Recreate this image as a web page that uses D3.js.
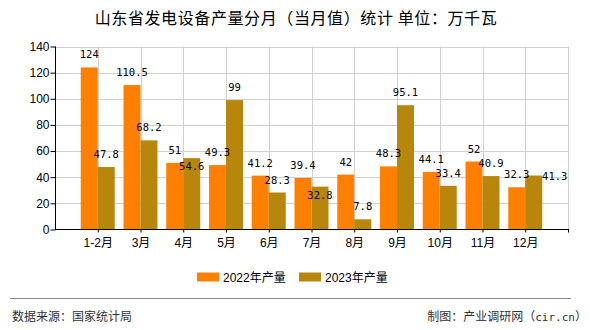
<!DOCTYPE html>
<html><head><meta charset="utf-8">
<script src="https://cdn.jsdelivr.net/npm/d3@7/dist/d3.min.js"></script>
<style>
html,body{margin:0;padding:0;background:#fff;}
svg{display:block;}
</style></head>
<body>
<svg id="c" width="590" height="330"></svg>
<script>
const categories = ["1-2月","3月","4月","5月","6月","7月","8月","9月","10月","11月","12月"];
const values2022 = [124,110.5,51,49.3,41.2,39.4,42,48.3,44.1,52,32.3];
const values2023 = [47.8,68.2,54.6,99,28.3,32.8,7.8,95.1,33.4,40.9,41.3];
const seriesNames = ["2022年产量","2023年产量"];
const yTicks = [0,20,40,60,80,100,120,140];
const title = "山东省发电设备产量分月（当月值）统计 单位：万千瓦";
const sourceText = "数据来源：国家统计局";
const creditText = "制图：产业调研网";
const creditSite = "cir.cn";

(function(){
const colors = ["#FF8000","#B8860B"];
const svg = d3.select("#c");
const pL = 55, pR = 568, pT = 46.5, pB = 229.5;
const x = d3.scalePoint().domain(categories).range([pL, pR]).padding(1);
const y = d3.scaleLinear().domain([0,140]).range([pB, pT]);
const bw = 17;
const sans = "'Liberation Sans', Arial, 'Noto Sans CJK SC', sans-serif";
const cjk = "'Noto Sans CJK SC', sans-serif";
const mono = "'DejaVu Sans Mono', monospace";

// title
svg.append("text").attr("x",296).attr("y",24).attr("text-anchor","middle")
  .attr("font-family",cjk).attr("font-size",16).attr("letter-spacing",0.6).attr("fill","#000").text(title);

// grid horizontal
svg.append("g").selectAll("line").data(yTicks.filter(d=>d>0)).join("line")
  .attr("x1",pL).attr("x2",pR).attr("y1",d=>Math.round(y(d))+0.5).attr("y2",d=>Math.round(y(d))+0.5)
  .attr("stroke","#d0d0d0").attr("stroke-width",1);
// grid vertical
svg.append("g").selectAll("line").data(categories).join("line")
  .attr("x1",d=>Math.round(x(d))+0.5).attr("x2",d=>Math.round(x(d))+0.5)
  .attr("y1",pT).attr("y2",pB).attr("stroke","#d0d0d0");
svg.append("line").attr("x1",pR+0.5).attr("x2",pR+0.5).attr("y1",pT).attr("y2",pB).attr("stroke","#d0d0d0");

// bars
const g = svg.append("g");
g.selectAll("rect.a").data(values2022).join("rect").attr("class","a")
  .attr("x",(d,i)=>x(categories[i])-bw).attr("width",bw)
  .attr("y",d=>y(d)).attr("height",d=>pB-y(d)).attr("fill",colors[0]);
g.selectAll("rect.b").data(values2023).join("rect").attr("class","b")
  .attr("x",(d,i)=>x(categories[i])).attr("width",bw)
  .attr("y",d=>y(d)).attr("height",d=>pB-y(d)).attr("fill",colors[1]);

// axes
const yAxis = d3.axisLeft(y).tickValues(yTicks).tickSize(5).tickPadding(1);
const ya = svg.append("g").attr("transform",`translate(${pL+0.5},0)`).call(yAxis);
ya.select(".domain").attr("d",`M0,${pT}V${pB}`).attr("stroke","#000");
ya.selectAll(".tick line").attr("stroke","#000");
ya.selectAll("text").attr("font-family",sans).attr("font-size",12).attr("fill","#000");

const xAxis = d3.axisBottom(x).tickSize(3).tickPadding(6);
const xa = svg.append("g").attr("transform",`translate(0,${pB})`).call(xAxis);
xa.select(".domain").attr("d",`M${pL},0H${pR+1}`).attr("stroke","#000");
xa.selectAll(".tick line").attr("stroke","#000");
xa.selectAll("text").attr("font-family",sans).attr("font-size",12).attr("fill","#000");
xa.append("line").attr("x1",pR+0.5).attr("x2",pR+0.5).attr("y1",0).attr("y2",3).attr("stroke","#000");

// value labels with simple collision avoidance
const cw = 6, th = 8, pad = 5;
const placed = [];
function box(cx, base, s){ const w = s.length*cw; return {x0:cx-w/2,x1:cx+w/2,y0:base-th,y1:base}; }
function hits(b){ return placed.some(p => b.x0 < p.x1 && b.x1 > p.x0 && b.y0 < p.y1 + pad && b.y1 > p.y0 - pad); }
const labels = [];
values2022.forEach((v,i)=>{
  const cx = x(categories[i]) - bw/2, base = y(v) - 9, s = String(v);
  placed.push(box(cx,base,s)); labels.push({cx,base,s});
});
values2023.forEach((v,i)=>{
  const c = x(categories[i]) + bw/2, s = String(v);
  const cands = [[c, y(v)-9],[c, y(v)+12],[c+bw+4, y(v)+4]];
  let pick = cands[0];
  for (const cd of cands){ if(!hits(box(cd[0],cd[1],s))){ pick = cd; break; } }
  placed.push(box(pick[0],pick[1],s)); labels.push({cx:pick[0],base:pick[1],s});
});
svg.append("g").selectAll("text").data(labels).join("text")
  .attr("x",d=>d.cx).attr("y",d=>d.base).attr("text-anchor","middle")
  .attr("font-family",mono).attr("font-size",10.5).attr("fill","#000")
  .text(d=>d.s);

// legend
const lg = svg.append("g");
const lx = [197, 299];
seriesNames.forEach((n,i)=>{
  lg.append("rect").attr("x",lx[i]).attr("y",272.5).attr("width",22).attr("height",9).attr("fill",colors[i]);
  lg.append("text").attr("x",lx[i]+26).attr("y",282).attr("font-family",sans).attr("font-size",12).attr("fill","#000").text(n);
});

// footer
svg.append("line").attr("x1",10).attr("x2",571).attr("y1",298.5).attr("y2",298.5).attr("stroke","#888").attr("stroke-width",1);
svg.append("text").attr("x",12).attr("y",321).attr("font-family",cjk).attr("font-size",12).attr("fill","#333").text(sourceText);
const ct = svg.append("text").attr("x",587).attr("y",321).attr("text-anchor","end").attr("font-family",cjk).attr("font-size",12).attr("fill","#333");
ct.append("tspan").text(creditText + "（");
ct.append("tspan").attr("font-family",mono).attr("font-size",11).text(creditSite);
ct.append("tspan").text("）");
})();
</script>
</body></html>
